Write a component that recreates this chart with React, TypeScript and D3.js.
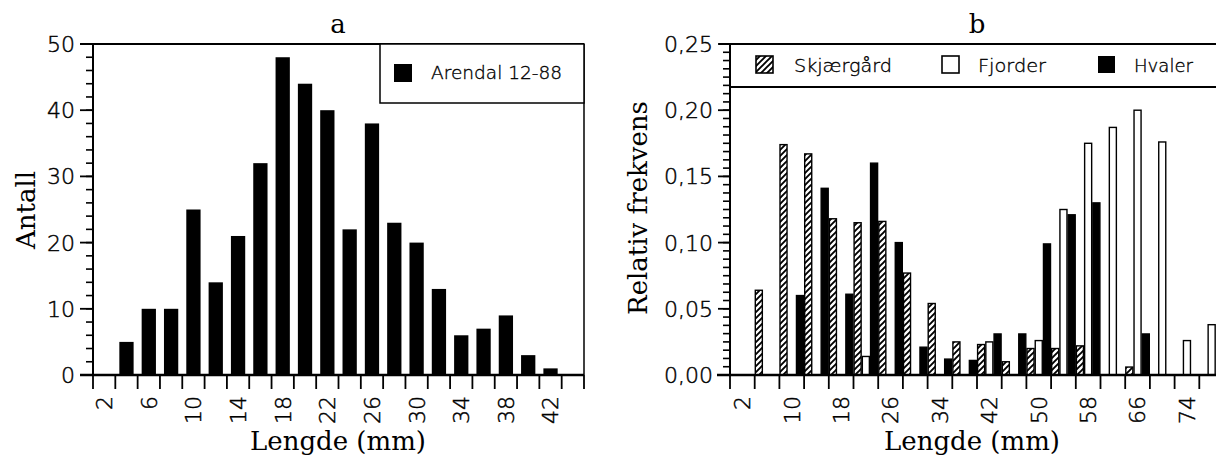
import React from "react";
import * as d3 from "d3";

// ---------- Panel a data ----------
const aLengths = [2, 4, 6, 8, 10, 12, 14, 16, 18, 20, 22, 24, 26, 28, 30, 32, 34, 36, 38, 40, 42, 44];
const aCounts = [0, 5, 10, 10, 25, 14, 21, 32, 48, 44, 40, 22, 38, 23, 20, 13, 6, 7, 9, 3, 1, 0];
const aTickLabels = [2, 6, 10, 14, 18, 22, 26, 30, 34, 38, 42];
const aYTicks = [0, 10, 20, 30, 40, 50];

// ---------- Panel b data ----------
const bLengths = [2, 6, 10, 14, 18, 22, 26, 30, 34, 38, 42, 46, 50, 54, 58, 62, 66, 70, 74, 78];
const skjaergard = [0, 0.064, 0.174, 0.167, 0.118, 0.115, 0.116, 0.077, 0.054, 0.025, 0.023, 0.010, 0.020, 0.020, 0.022, 0, 0.006, 0, 0, 0];
const fjorder = [0, 0, 0, 0, 0, 0.014, 0, 0, 0, 0, 0.025, 0, 0.026, 0.125, 0.175, 0.187, 0.200, 0.176, 0.026, 0.038];
const hvaler = [0, 0, 0.060, 0.141, 0.061, 0.160, 0.100, 0.021, 0.012, 0.011, 0.031, 0.031, 0.099, 0.121, 0.130, 0, 0.031, 0, 0, 0];
const bTickLabels = [2, 10, 18, 26, 34, 42, 50, 58, 66, 74];
const bYTicks = [0, 0.05, 0.1, 0.15, 0.2, 0.25];
const seriesNames = ["Skjærgård", "Fjorder", "Hvaler"];

const SANS = "'DejaVu Sans', sans-serif";
const SERIF = "'DejaVu Serif', serif";
const TICK_FS = 22;
const thin = { fontFamily: SANS, fontWeight: 200, stroke: "#000", strokeWidth: 0.45 } as const;

export default function App() {
  // scales panel a
  const ax = d3.scaleBand<number>().domain(aLengths).range([93, 584]);
  const ay = d3.scaleLinear().domain([0, 50]).range([375, 44]);
  const aBarW = ax.bandwidth() * 0.64;
  const aMinor = d3.range(0, 50.001, 2);

  // scales panel b
  const bx = d3.scaleBand<number>().domain(bLengths).range([730, 730 + 24.7 * bLengths.length]);
  const bsub = d3.scaleBand<string>().domain(seriesNames).range([0, bx.bandwidth()]);
  const by = d3.scaleLinear().domain([0, 0.25]).range([375, 44]);
  const bMinor = d3.range(0, 0.25001, 0.00625);

  const aBounds = [...aLengths.map((d) => ax(d) as number), 584];
  const bBounds = [...bLengths.map((d) => bx(d) as number), 730 + 24.7 * bLengths.length];

  const fmtComma = (v: number) => v.toFixed(2).replace(".", ",");

  const seriesB = [
    { name: "Skjærgård", values: skjaergard, fill: "url(#hatch)", stroke: "#000" },
    { name: "Fjorder", values: fjorder, fill: "#fff", stroke: "#000" },
    { name: "Hvaler", values: hvaler, fill: "#000", stroke: "#000" },
  ];

  return (
    <svg
      width={1216}
      height={460}
      style={{ position: "absolute", left: 0, top: 0, background: "#fff" }}
    >
      <defs>
        <pattern id="hatch" patternUnits="userSpaceOnUse" width="6" height="6">
          <rect width="6" height="6" fill="#fff" />
          <path d="M-1,7 L7,-1 M-1,1 L1,-1 M5,7 L7,5" stroke="#000" strokeWidth="1.9" />
        </pattern>
      </defs>
      <rect x={0} y={0} width={1216} height={460} fill="#fff" />

      {/* ================= Panel a ================= */}
      <g>
        <text x={338} y={33} fontFamily={SERIF} fontSize={26} textAnchor="middle">a</text>
        {aLengths.map((d, i) =>
          aCounts[i] > 0 ? (
            <rect
              key={d}
              x={(ax(d) as number) + (ax.bandwidth() - aBarW) / 2}
              y={ay(aCounts[i])}
              width={aBarW}
              height={ay(0) - ay(aCounts[i])}
              fill="#000"
            />
          ) : null
        )}
        <line x1={80} x2={584} y1={44} y2={44} stroke="#000" strokeWidth={2} />
        <line x1={584} x2={584} y1={44} y2={375} stroke="#000" strokeWidth={1.5} />
        <line x1={93} x2={93} y1={44} y2={376} stroke="#000" strokeWidth={2} />
        <line x1={80} x2={584} y1={375} y2={375} stroke="#000" strokeWidth={2.5} />
        {aMinor.map((v) => (
          <line key={"am" + v} x1={86} x2={93} y1={ay(v)} y2={ay(v)} stroke="#000" strokeWidth={1.6} />
        ))}
        {aYTicks.map((v) => (
          <g key={"ay" + v}>
            <line x1={80} x2={93} y1={ay(v)} y2={ay(v)} stroke="#000" strokeWidth={1.8} />
            <text x={75} y={ay(v)} dy="0.36em" {...thin} fontSize={TICK_FS} textAnchor="end">{v}</text>
          </g>
        ))}
        {aBounds.map((x, i) => (
          <line key={"ax" + i} x1={x} x2={x} y1={375} y2={389} stroke="#000" strokeWidth={1.8} />
        ))}
        {aTickLabels.map((v) => (
          <text
            key={"axl" + v}
            transform={`translate(${(ax(v) as number) + ax.bandwidth() / 2},396) rotate(-90)`}
            dy="0.36em"
            {...thin}
            fontSize={TICK_FS}
            textAnchor="end"
          >
            {v}
          </text>
        ))}
        <text x={338} y={450} fontFamily={SERIF} fontSize={26} textAnchor="middle">Lengde (mm)</text>
        <text transform="translate(35,210) rotate(-90)" fontFamily={SERIF} fontSize={26} textAnchor="middle">Antall</text>
        <rect x={380} y={44} width={204} height={59} fill="#fff" stroke="#000" strokeWidth={1.5} />
        <rect x={394} y={64} width={18} height={18} fill="#000" />
        <text x={431} y={79} {...thin} strokeWidth={0.35} fontSize={18} textLength={131} lengthAdjust="spacingAndGlyphs">Arendal 12-88</text>
      </g>

      {/* ================= Panel b ================= */}
      <g>
        <text x={977} y={33} fontFamily={SERIF} fontSize={26} textAnchor="middle">b</text>
        {seriesB.map((s) =>
          bLengths.map((d, i) =>
            s.values[i] > 0 ? (
              <rect
                key={s.name + d}
                x={(bx(d) as number) + (bsub(s.name) as number) + 0.6}
                y={by(s.values[i])}
                width={bsub.bandwidth() - 1.2}
                height={by(0) - by(s.values[i])}
                fill={s.fill}
                stroke={s.stroke}
                strokeWidth={1.4}
              />
            ) : null
          )
        )}
        <line x1={719} x2={1216} y1={44} y2={44} stroke="#000" strokeWidth={2} />
        <line x1={730} x2={1216} y1={87} y2={87} stroke="#000" strokeWidth={2} />
        <line x1={730} x2={730} y1={44} y2={376} stroke="#000" strokeWidth={2} />
        <line x1={717} x2={1216} y1={375} y2={375} stroke="#000" strokeWidth={2.5} />
        {bMinor.map((v, i) => (
          <line key={"bm" + i} x1={723} x2={730} y1={by(v)} y2={by(v)} stroke="#000" strokeWidth={1.6} />
        ))}
        {bYTicks.map((v) => (
          <g key={"by" + v}>
            <line x1={718} x2={730} y1={by(v)} y2={by(v)} stroke="#000" strokeWidth={1.8} />
            <text x={713} y={by(v)} dy="0.36em" {...thin} fontSize={TICK_FS} textAnchor="end">{fmtComma(v)}</text>
          </g>
        ))}
        {bBounds.map((x, i) => (
          <line key={"bx" + i} x1={x} x2={x} y1={375} y2={389} stroke="#000" strokeWidth={1.8} />
        ))}
        {bTickLabels.map((v) => (
          <text
            key={"bxl" + v}
            transform={`translate(${(bx(v) as number) + bx.bandwidth() / 2},396) rotate(-90)`}
            dy="0.36em"
            {...thin}
            fontSize={TICK_FS}
            textAnchor="end"
          >
            {v}
          </text>
        ))}
        <text x={972} y={450} fontFamily={SERIF} fontSize={26} textAnchor="middle">Lengde (mm)</text>
        <text transform="translate(647,208) rotate(-90)" fontFamily={SERIF} fontSize={26} textAnchor="middle">Relativ frekvens</text>
        <rect x={756} y={56} width={17} height={17} fill="url(#hatch)" stroke="#000" strokeWidth={1.6} />
        <text x={794} y={72} {...thin} strokeWidth={0.35} fontSize={18} textLength={98} lengthAdjust="spacingAndGlyphs">Skjærgård</text>
        <rect x={942} y={56} width={17} height={17} fill="#fff" stroke="#000" strokeWidth={1.6} />
        <text x={978} y={72} {...thin} strokeWidth={0.35} fontSize={18} textLength={68} lengthAdjust="spacingAndGlyphs">Fjorder</text>
        <rect x={1098} y={56} width={17} height={17} fill="#000" />
        <text x={1134} y={72} {...thin} strokeWidth={0.35} fontSize={18} textLength={59} lengthAdjust="spacingAndGlyphs">Hvaler</text>
      </g>
    </svg>
  );
}
